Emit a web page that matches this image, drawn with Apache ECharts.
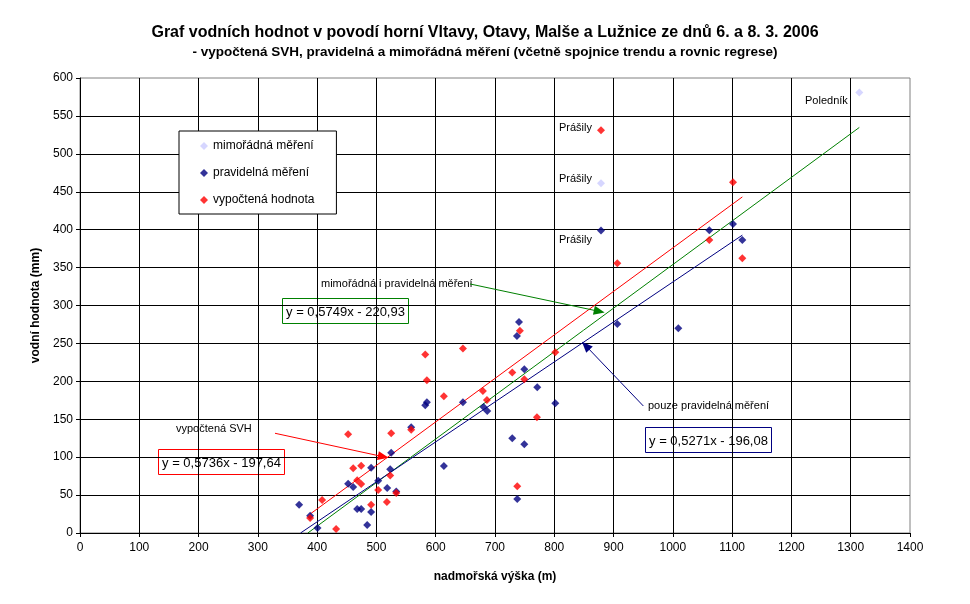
<!DOCTYPE html>
<html>
<head>
<meta charset="utf-8">
<script src="https://cdn.jsdelivr.net/npm/echarts@6/dist/echarts.min.js"></script>
<style>
html,body{margin:0;padding:0;background:#fff;}
#chart{width:970px;height:604px;}
</style>
</head>
<body>
<div id="chart"></div>
<script>
// ---- data ----
const seriesNames = ['mimořádná měření', 'pravidelná měření', 'vypočtená hodnota'];
const mimoradna = [[878.8, 461.1], [1314.5, 581.0]];
const pravidelna = [
  [369.6, 37.3], [388.2, 22.8], [400.6, 6.6], [452.3, 64.9], [460.8, 60.5], [467.5, 31.6],
  [474.3, 31.6], [484.4, 10.5], [491.1, 27.6], [491.1, 86.0], [503.0, 68.9], [518.2, 59.2],
  [523.2, 84.2], [524.9, 105.7], [533.4, 54.8], [558.6, 139.5], [582.3, 168.4], [585.1, 172.4],
  [613.8, 88.2], [645.9, 172.4], [680.7, 166.2], [686.9, 161.0], [729.1, 125.0], [737.5, 44.7],
  [737.0, 259.7], [740.5, 278.2], [749.4, 215.8], [749.4, 117.1], [771.3, 192.1], [801.7, 171.0],
  [878.8, 399.0], [906.3, 275.6], [1009.2, 269.9], [1061.5, 399.2], [1101.4, 407.5], [1117.2, 386.4]
];
const vypoctena = [
  [388.2, 19.7], [408.4, 43.4], [432.0, 5.3], [452.3, 130.3], [460.8, 85.5], [467.5, 69.7],
  [474.3, 64.5], [474.3, 88.6], [491.1, 37.3], [503.0, 56.6], [517.6, 40.8], [523.2, 75.9],
  [524.9, 131.6], [533.4, 52.6], [558.6, 136.0], [582.3, 235.5], [585.1, 201.3], [613.8, 180.3],
  [645.9, 243.4], [679.6, 187.3], [686.4, 175.4], [729.1, 211.8], [737.5, 61.8], [742.0, 266.7],
  [749.4, 202.6], [770.7, 152.6], [801.7, 238.2], [878.8, 531.0], [906.3, 355.6], [1061.5, 386.4],
  [1101.4, 462.5], [1117.2, 362.2]
];
// trend line end points (as drawn in the reference)
const trendVypoctena = [[388.2, 25.0], [1117.2, 443.2]];
const trendPravidelna = [[372.0, 0], [1117.2, 392.8]];
const trendObe = [[384.3, 0], [1314.5, 534.8]];
const equations = ['y = 0,5736x - 197,64', 'y = 0,5271x - 196,08', 'y = 0,5749x - 220,93'];
const xTicks = {min: 0, max: 1400, step: 100};
const yTicks = {min: 0, max: 600, step: 50};

const FONT = 'Arial, "Liberation Sans", sans-serif';
const RED = '#FF0000', NAVY = '#000080', LAV = '#CCCCFF', GREEN = '#008000';

const chart = echarts.init(document.getElementById('chart'), null, {renderer: 'canvas'});

function arrow(color, from, to) {
  return {
    silent: true,
    symbol: ['none', 'triangle'],
    symbolSize: [9, 11],
    label: {show: false},
    lineStyle: {color: color, width: 1, type: 'solid'},
    data: [[{coord: from}, {coord: to}]]
  };
}

function eqBox(x, y, w, h, color, text) {
  return {
    type: 'group', left: x, top: y,
    children: [
      {type: 'rect', shape: {x: 0, y: 0, width: w, height: h},
       style: {fill: '#fff', stroke: color, lineWidth: 1}},
      {type: 'text', x: w / 2, y: h / 2 + 1,
       style: {text: text, fill: '#000', font: '13px ' + FONT, textAlign: 'center', textVerticalAlign: 'middle'}}
    ]
  };
}

function label(x, y, text) {
  return {type: 'text', left: x, top: y,
    style: {text: text, fill: '#000', font: '11px ' + FONT}};
}

const option = {
  backgroundColor: '#fff',
  animation: false,
  title: [
    {text: 'Graf vodních hodnot v povodí horní Vltavy, Otavy, Malše a Lužnice ze dnů 6. a 8. 3. 2006',
     left: 'center', top: 20,
     textStyle: {fontFamily: FONT, fontSize: 16, fontWeight: 'bold', color: '#000'}},
    {text: '- vypočtená SVH, pravidelná a mimořádná měření (včetně spojnice trendu a rovnic regrese)',
     left: 'center', top: 40,
     textStyle: {fontFamily: FONT, fontSize: 13.5, fontWeight: 'bold', color: '#000'}}
  ],
  grid: {left: 80, top: 78, right: 60, bottom: 71, show: true, borderColor: '#808080', borderWidth: 1},
  legend: {
    data: seriesNames,
    orient: 'vertical', left: 179, top: 131,
    backgroundColor: '#fff', borderColor: '#000', borderWidth: 1,
    padding: [9, 22, 8, 21],
    itemGap: 15, itemWidth: 8, itemHeight: 8,
    icon: 'diamond',
    textStyle: {fontFamily: FONT, fontSize: 12, color: '#000'}
  },
  xAxis: {
    type: 'value', min: xTicks.min, max: xTicks.max, interval: xTicks.step,
    name: 'nadmořská výška (m)', nameLocation: 'middle', nameGap: 38,
    nameTextStyle: {fontFamily: FONT, fontSize: 12, fontWeight: 'bold', color: '#000'},
    axisLine: {lineStyle: {color: '#000', width: 1}},
    axisTick: {show: true, length: 4, lineStyle: {color: '#000'}},
    axisLabel: {fontFamily: FONT, fontSize: 12, color: '#000', margin: 9,
                formatter: function (v) { return String(v); }},
    splitLine: {show: true, showMaxLine: false, lineStyle: {color: '#000', width: 1}}
  },
  yAxis: {
    type: 'value', min: yTicks.min, max: yTicks.max, interval: yTicks.step,
    name: 'vodní hodnota (mm)', nameLocation: 'middle', nameGap: 38,
    nameTextStyle: {fontFamily: FONT, fontSize: 12, fontWeight: 'bold', color: '#000'},
    axisLine: {show: true, lineStyle: {color: '#000', width: 1}},
    axisTick: {show: true, length: 4, lineStyle: {color: '#000'}},
    axisLabel: {fontFamily: FONT, fontSize: 12, color: '#000', margin: 7,
                formatter: function (v) { return String(v); }},
    splitLine: {show: true, showMaxLine: false, lineStyle: {color: '#000', width: 1}}
  },
  series: [
    {name: 'trend obě', type: 'line', data: trendObe, symbol: 'none', z: 3,
     lineStyle: {color: GREEN, width: 1}, silent: true,
     markLine: arrow(GREEN, [657.8, 328.4], [875.9, 292.2])},
    {name: 'trend pravidelná', type: 'line', data: trendPravidelna, symbol: 'none', z: 3,
     lineStyle: {color: NAVY, width: 1}, silent: true,
     markLine: arrow(NAVY, [950.2, 167.5], [853.0, 247.0])},
    {name: 'trend vypočtená', type: 'line', data: trendVypoctena, symbol: 'none', z: 3,
     lineStyle: {color: RED, width: 1}, silent: true,
     markLine: arrow(RED, [328.9, 131.5], [511.6, 100.6])},
    {name: seriesNames[0], type: 'scatter', data: mimoradna, symbol: 'diamond', symbolSize: 8, z: 4,
     itemStyle: {color: LAV}},
    {name: seriesNames[1], type: 'scatter', data: pravidelna, symbol: 'diamond', symbolSize: 8, z: 4,
     itemStyle: {color: NAVY}},
    {name: seriesNames[2], type: 'scatter', data: vypoctena, symbol: 'diamond', symbolSize: 8, z: 4,
     itemStyle: {color: RED}}
  ],
  graphic: [
    eqBox(282, 298, 126, 25, GREEN, equations[2]),
    eqBox(158, 449, 126, 25, RED, equations[0]),
    eqBox(645, 427, 126, 25, NAVY, equations[1]),
    label(176, 423, 'vypočtená SVH'),
    label(321, 278, 'mimořádná i pravidelná měření'),
    label(648, 400, 'pouze pravidelná měření'),
    label(559, 122, 'Prášily'),
    label(559, 173, 'Prášily'),
    label(559, 234, 'Prášily'),
    label(805, 95, 'Poledník')
  ]
};
chart.setOption(option);
</script>
</body>
</html>
